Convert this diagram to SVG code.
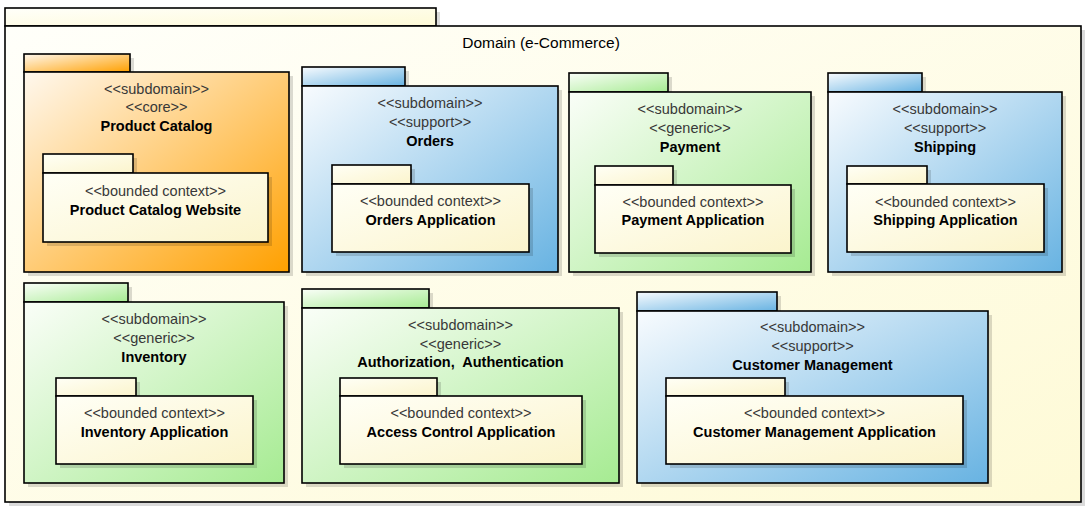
<svg xmlns="http://www.w3.org/2000/svg" width="1092" height="508" viewBox="0 0 1092 508">
<defs>
<linearGradient id="gOuter" x1="0" y1="0" x2="1" y2="1"><stop offset="0" stop-color="#FFFFFA"/><stop offset="1" stop-color="#FEFAD6"/></linearGradient>
<linearGradient id="gOrange" x1="0" y1="0" x2="1" y2="1"><stop offset="0" stop-color="#FFF8EE"/><stop offset="1" stop-color="#FFA000"/></linearGradient>
<linearGradient id="gBlue" x1="0" y1="0" x2="1" y2="1"><stop offset="0" stop-color="#F8FBFE"/><stop offset="1" stop-color="#68B3E2"/></linearGradient>
<linearGradient id="gGreen" x1="0" y1="0" x2="1" y2="1"><stop offset="0" stop-color="#FAFEF8"/><stop offset="1" stop-color="#A6EB92"/></linearGradient>
<linearGradient id="gYellow" x1="0" y1="0" x2="1" y2="1"><stop offset="0" stop-color="#FFFFF6"/><stop offset="1" stop-color="#FBF4CC"/></linearGradient>
</defs>
<style>
.pk{stroke:#000;stroke-width:1.6}
.sh{fill:#000;opacity:0.14}
.o{fill:url(#gOuter)}
.or{fill:url(#gOrange)}
.bl{fill:url(#gBlue)}
.gr{fill:url(#gGreen)}
.ye{fill:url(#gYellow)}
.st{font-family:"Liberation Sans",Arial,sans-serif;font-size:14.5px;fill:#383838;text-anchor:middle}
.nm{font-family:"Liberation Sans",Arial,sans-serif;font-size:14.5px;font-weight:bold;fill:#000;text-anchor:middle;white-space:pre}
.ti{font-family:"Liberation Sans",Arial,sans-serif;font-size:15.5px;fill:#000;text-anchor:middle}
</style>
<rect width="1092" height="508" fill="#FFFFFF"/>

<g id="domain">
<rect class="sh" x="9" y="12" width="431" height="18"/>
<rect class="sh" x="9" y="30" width="1076" height="476"/>
<rect class="pk o" x="5" y="8" width="431" height="18"/>
<rect class="pk o" x="5" y="26" width="1076" height="476"/>
<text class="ti" x="541" y="48">Domain (e-Commerce)</text>
</g>

<g id="product-catalog">
<rect class="sh" x="28" y="58" width="106" height="18"/>
<rect class="sh" x="28" y="76" width="265" height="200"/>
<rect class="pk or" x="24" y="54" width="106" height="18"/>
<rect class="pk or" x="24" y="72" width="265" height="200"/>
<text class="st" x="156.5" y="94">&lt;&lt;subdomain&gt;&gt;</text>
<text class="st" x="156.5" y="112">&lt;&lt;core&gt;&gt;</text>
<text class="nm" x="156.5" y="131">Product Catalog</text>
</g>
<g id="product-catalog-website">
<rect class="sh" x="47" y="158" width="90" height="19"/>
<rect class="sh" x="47" y="177" width="225" height="69"/>
<rect class="pk ye" x="43" y="154" width="90" height="19"/>
<rect class="pk ye" x="43" y="173" width="225" height="69"/>
<text class="st" x="155.5" y="196">&lt;&lt;bounded context&gt;&gt;</text>
<text class="nm" x="155.5" y="215">Product Catalog Website</text>
</g>

<g id="orders">
<rect class="sh" x="306" y="71" width="103" height="19"/>
<rect class="sh" x="306" y="90" width="256" height="186"/>
<rect class="pk bl" x="302" y="67" width="103" height="19"/>
<rect class="pk bl" x="302" y="86" width="256" height="186"/>
<text class="st" x="430" y="108">&lt;&lt;subdomain&gt;&gt;</text>
<text class="st" x="430" y="127">&lt;&lt;support&gt;&gt;</text>
<text class="nm" x="430" y="146">Orders</text>
</g>
<g id="orders-application">
<rect class="sh" x="336" y="169" width="79" height="19"/>
<rect class="sh" x="336" y="188" width="197" height="68"/>
<rect class="pk ye" x="332" y="165" width="79" height="19"/>
<rect class="pk ye" x="332" y="184" width="197" height="68"/>
<text class="st" x="430.5" y="206">&lt;&lt;bounded context&gt;&gt;</text>
<text class="nm" x="430.5" y="225">Orders Application</text>
</g>

<g id="payment">
<rect class="sh" x="573" y="77" width="99" height="19"/>
<rect class="sh" x="573" y="96" width="242" height="180"/>
<rect class="pk gr" x="569" y="73" width="99" height="19"/>
<rect class="pk gr" x="569" y="92" width="242" height="180"/>
<text class="st" x="690" y="114">&lt;&lt;subdomain&gt;&gt;</text>
<text class="st" x="690" y="133">&lt;&lt;generic&gt;&gt;</text>
<text class="nm" x="690" y="152">Payment</text>
</g>
<g id="payment-application">
<rect class="sh" x="599" y="170" width="78" height="19"/>
<rect class="sh" x="599" y="189" width="196" height="68"/>
<rect class="pk ye" x="595" y="166" width="78" height="19"/>
<rect class="pk ye" x="595" y="185" width="196" height="68"/>
<text class="st" x="693" y="207">&lt;&lt;bounded context&gt;&gt;</text>
<text class="nm" x="693" y="225">Payment Application</text>
</g>

<g id="shipping">
<rect class="sh" x="832" y="77" width="94" height="19"/>
<rect class="sh" x="832" y="96" width="234" height="180"/>
<rect class="pk bl" x="828" y="73" width="94" height="19"/>
<rect class="pk bl" x="828" y="92" width="234" height="180"/>
<text class="st" x="945" y="114">&lt;&lt;subdomain&gt;&gt;</text>
<text class="st" x="945" y="133">&lt;&lt;support&gt;&gt;</text>
<text class="nm" x="945" y="152">Shipping</text>
</g>
<g id="shipping-application">
<rect class="sh" x="851" y="170" width="80" height="18"/>
<rect class="sh" x="851" y="188" width="197" height="68"/>
<rect class="pk ye" x="847" y="166" width="80" height="18"/>
<rect class="pk ye" x="847" y="184" width="197" height="68"/>
<text class="st" x="945.5" y="207">&lt;&lt;bounded context&gt;&gt;</text>
<text class="nm" x="945.5" y="225">Shipping Application</text>
</g>

<g id="inventory">
<rect class="sh" x="28" y="287" width="104" height="19"/>
<rect class="sh" x="28" y="306" width="260" height="181"/>
<rect class="pk gr" x="24" y="283" width="104" height="19"/>
<rect class="pk gr" x="24" y="302" width="260" height="181"/>
<text class="st" x="154" y="324">&lt;&lt;subdomain&gt;&gt;</text>
<text class="st" x="154" y="343">&lt;&lt;generic&gt;&gt;</text>
<text class="nm" x="154" y="362">Inventory</text>
</g>
<g id="inventory-application">
<rect class="sh" x="60" y="382" width="80" height="18"/>
<rect class="sh" x="60" y="400" width="197" height="68"/>
<rect class="pk ye" x="56" y="378" width="80" height="18"/>
<rect class="pk ye" x="56" y="396" width="197" height="68"/>
<text class="st" x="154.5" y="418">&lt;&lt;bounded context&gt;&gt;</text>
<text class="nm" x="154.5" y="437">Inventory Application</text>
</g>

<g id="authorization-authentication">
<rect class="sh" x="306" y="293" width="127" height="19"/>
<rect class="sh" x="306" y="312" width="317" height="175"/>
<rect class="pk gr" x="302" y="289" width="127" height="19"/>
<rect class="pk gr" x="302" y="308" width="317" height="175"/>
<text class="st" x="460.5" y="330">&lt;&lt;subdomain&gt;&gt;</text>
<text class="st" x="460.5" y="349">&lt;&lt;generic&gt;&gt;</text>
<text class="nm" x="460.5" y="367" xml:space="preserve">Authorization,  Authentication</text>
</g>
<g id="access-control-application">
<rect class="sh" x="344" y="382" width="97" height="18"/>
<rect class="sh" x="344" y="400" width="242" height="68"/>
<rect class="pk ye" x="340" y="378" width="97" height="18"/>
<rect class="pk ye" x="340" y="396" width="242" height="68"/>
<text class="st" x="461" y="418">&lt;&lt;bounded context&gt;&gt;</text>
<text class="nm" x="461" y="437">Access Control Application</text>
</g>

<g id="customer-management">
<rect class="sh" x="641" y="296" width="140" height="19"/>
<rect class="sh" x="641" y="315" width="351" height="172"/>
<rect class="pk bl" x="637" y="292" width="140" height="19"/>
<rect class="pk bl" x="637" y="311" width="351" height="172"/>
<text class="st" x="812.5" y="332">&lt;&lt;subdomain&gt;&gt;</text>
<text class="st" x="812.5" y="351">&lt;&lt;support&gt;&gt;</text>
<text class="nm" x="812.5" y="370">Customer Management</text>
</g>
<g id="customer-management-application">
<rect class="sh" x="670" y="382" width="119" height="18"/>
<rect class="sh" x="670" y="400" width="297" height="68"/>
<rect class="pk ye" x="666" y="378" width="119" height="18"/>
<rect class="pk ye" x="666" y="396" width="297" height="68"/>
<text class="st" x="814.5" y="418">&lt;&lt;bounded context&gt;&gt;</text>
<text class="nm" x="814.5" y="437">Customer Management Application</text>
</g>

<g id="connectors"/>
</svg>
